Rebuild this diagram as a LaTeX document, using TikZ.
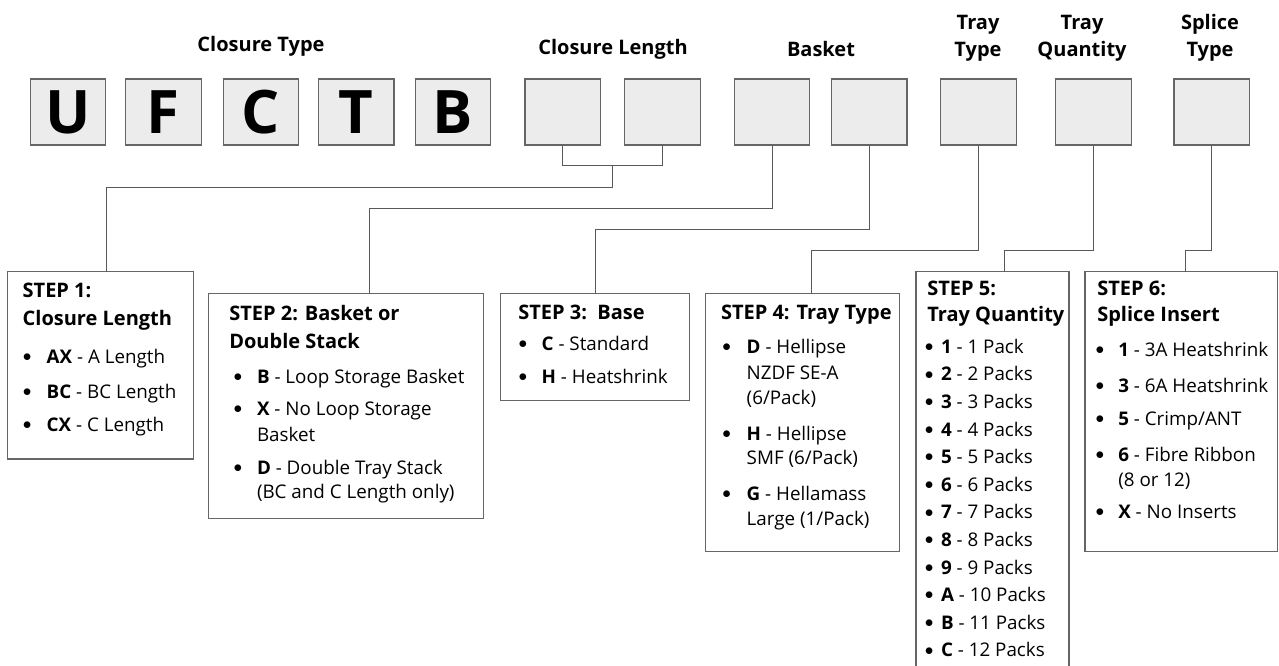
\documentclass[tikz,border=0pt]{standalone}
\usepackage{fontspec}
\setmainfont{Open Sans}
\usetikzlibrary{calc}
\definecolor{linegray}{gray}{0.35}
\definecolor{boxgray}{gray}{0.40}
\definecolor{fillgray}{gray}{0.925}
\newcommand\stack[1]{\vtop{\baselineskip=0pt\lineskiplimit=-\maxdimen\lineskip=0pt #1}}
\newcommand\ttl[1]{\hbox{\bfseries\fontsize{20}{20}\selectfont #1}}
\newcommand\bdot{\raisebox{1.8pt}{$\bullet$}}
\newcommand\bl[4]{\hbox{\rlap{\kern#1pt\makebox[0pt]{\bdot}}\kern#2pt\textbf{#3} - #4}}
\newcommand\cl[2]{\hbox{\kern#1pt #2}}
\newcommand\ctwo[2]{\stack{\hbox to 0pt{\hss #1\hss}\vskip27pt\hbox to 0pt{\hss #2\hss}}}
\begin{document}
\begin{tikzpicture}[x=1pt,y=-1pt,
  tbox/.style={draw=boxgray, fill=fillgray, line width=1.1pt, minimum width=75.5, minimum height=66,
    inner sep=0, outer sep=0, font=\bfseries\fontsize{60}{60}\selectfont},
  stepbox/.style={draw=boxgray, line width=1.2pt, inner sep=0, outer sep=0, anchor=north west},
  lab/.style={inner sep=0, outer sep=0, anchor=base, font=\bfseries\fontsize{20}{20}\selectfont},
  txt/.style={inner sep=0, outer sep=0, anchor=base west, font=\fontsize{18.8}{18.8}\selectfont},
  conn/.style={draw=linegray, line width=1pt}]
\path[use as bounding box] (0,0) rectangle (1279,666);
\clip (0,0) rectangle (1279,666);

% top labels
\node[lab] (l1) at (261,52) {Closure Type};
\node[lab] (l2) at (613,55) {Closure Length};
\node[lab] (l3) at (821,57) {Basket};
\node[lab] (l4) at (978,30) {\ctwo{Tray}{Type}};
\node[lab] (l5) at (1082,30) {\ctwo{Tray}{Quantity}};
\node[lab] (l6) at (1210,30) {\ctwo{Splice}{Type}};

% code boxes
\node[tbox] (b1) at (68,112) {U};
\node[tbox] (b2) at (163.3,112) {F};
\node[tbox] (b3) at (261,112) {C};
\node[tbox] (b4) at (356.2,112) {T};
\node[tbox] (b5) at (452.9,112) {B};
\node[tbox] (b6) at (562.7,112) {};
\node[tbox] (b7) at (662.5,112) {};
\node[tbox] (b8) at (772,112) {};
\node[tbox] (b9) at (869.2,112) {};
\node[tbox] (b10) at (978.6,112) {};
\node[tbox] (b11) at (1093.5,112) {};
\node[tbox] (b12) at (1211.7,112) {};

% step boxes
\node[stepbox, minimum width=186, minimum height=187.3] (s1) at (7.3,271.7) {};
\node[stepbox, minimum width=275, minimum height=225] (s2) at (208.3,293.3) {};
\node[stepbox, minimum width=189, minimum height=107.2] (s3) at (500.7,293.3) {};
\node[stepbox, minimum width=193.6, minimum height=258.4] (s4) at (705.7,293.3) {};
\node[stepbox, minimum width=153, minimum height=400] (s5) at (916,271.7) {};
\node[stepbox, minimum width=192.7, minimum height=280] (s6) at (1085,271.7) {};

% connectors
\draw[conn] (b6.south) -- ++(0,20.7) -| (b7.south);
\coordinate (jm) at ($(b6.south)!0.5!(b7.south)+(0,20.7)$);
\draw[conn] (jm) -- ++(0,22) -| ([xshift=98.7pt]s1.north west);
\draw[conn] (b8.south) -- ++(0,63.3) -| ([xshift=161pt]s2.north west);
\draw[conn] (b9.south) -- ++(0,84.3) -| ([xshift=94.3pt]s3.north west);
\draw[conn] (b10.south) -- ++(0,105.7) -| ([xshift=105.3pt]s4.north west);
\draw[conn] (b11.south) -- ++(0,105.7) -| ([xshift=88pt]s5.north west);
\draw[conn] (b12.south) -- ++(0,105.7) -| ([xshift=100pt]s6.north west);

% step texts
\node[txt] (t1) at (22.7,297) {\stack{%
  \ttl{STEP 1:}\vskip28pt
  \ttl{Closure Length}\vskip38pt
  \bl{4.6}{24}{AX}{A Length}\vskip35pt
  \bl{4.6}{24}{BC}{BC Length}\vskip33pt
  \bl{4.6}{24}{CX}{C Length}}};
\node[txt] (t2) at (229.3,320) {\stack{%
  \ttl{STEP 2: Basket or}\vskip28.3pt
  \ttl{Double Stack}\vskip35pt
  \bl{8.7}{27.7}{B}{Loop Storage Basket}\vskip31.7pt
  \bl{8.7}{27.7}{X}{No Loop Storage}\vskip26pt
  \cl{27.7}{Basket}\vskip33.3pt
  \bl{8.7}{27.7}{D}{Double Tray Stack}\vskip24.5pt
  \cl{27.7}{(BC and C Length only)}}};
\node[txt] (t3) at (518.3,319.3) {\stack{%
  \ttl{STEP 3:\ \ Base}\vskip31pt
  \bl{4.7}{23.4}{C}{Standard}\vskip33pt
  \bl{4.7}{23.4}{H}{Heatshrink}}};
\node[txt] (t4) at (721,319.3) {\stack{%
  \ttl{STEP 4: Tray Type}\vskip34pt
  \bl{5.7}{25.7}{D}{Hellipse}\vskip25.7pt
  \cl{25.7}{NZDF SE-A}\vskip25pt
  \cl{25.7}{(6/Pack)}\vskip36pt
  \bl{5.7}{25.7}{H}{Hellipse}\vskip24pt
  \cl{25.7}{SMF (6/Pack)}\vskip36pt
  \bl{5.7}{25.7}{G}{Hellamass}\vskip25pt
  \cl{25.7}{Large (1/Pack)}}};
\node[txt] (t5) at (927.3,295) {\stack{%
  \ttl{STEP 5:}\vskip26.7pt
  \ttl{Tray Quantity}\vskip31.6pt
  \bl{2}{13.7}{1}{1 Pack}\vskip27.6pt
  \bl{2}{13.7}{2}{2 Packs}\vskip27.6pt
  \bl{2}{13.7}{3}{3 Packs}\vskip27.6pt
  \bl{2}{13.7}{4}{4 Packs}\vskip27.6pt
  \bl{2}{13.7}{5}{5 Packs}\vskip27.6pt
  \bl{2}{13.7}{6}{6 Packs}\vskip27.6pt
  \bl{2}{13.7}{7}{7 Packs}\vskip27.6pt
  \bl{2}{13.7}{8}{8 Packs}\vskip27.6pt
  \bl{2}{13.7}{9}{9 Packs}\vskip27.6pt
  \bl{2}{13.7}{A}{10 Packs}\vskip27.6pt
  \bl{2}{13.7}{B}{11 Packs}\vskip27.6pt
  \bl{2}{13.7}{C}{12 Packs}}};
\node[txt] (t6) at (1097.3,295) {\stack{%
  \ttl{STEP 6:}\vskip26.7pt
  \ttl{Splice Insert}\vskip35pt
  \bl{2.7}{21}{1}{3A Heatshrink}\vskip36pt
  \bl{2.7}{21}{3}{6A Heatshrink}\vskip33pt
  \bl{2.7}{21}{5}{Crimp/ANT}\vskip36pt
  \bl{2.7}{21}{6}{Fibre Ribbon}\vskip25pt
  \cl{21}{(8 or 12)}\vskip31.6pt
  \bl{2.7}{21}{X}{No Inserts}}};
\end{tikzpicture}
\end{document}
